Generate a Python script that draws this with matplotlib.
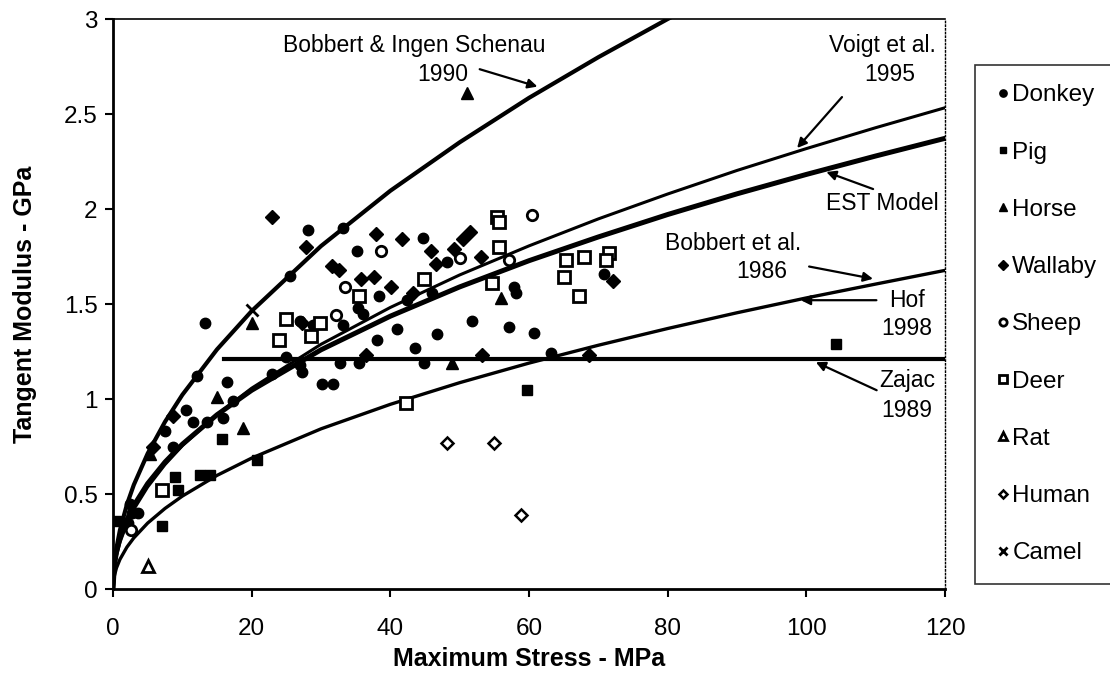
import matplotlib.pyplot as plt
import numpy as np

plt.rcParams['font.family'] = ['Liberation Sans', 'DejaVu Sans']

# ---- model curves ----
curve_x = [0, 0.2, 0.5, 1, 2, 3, 5, 7.5, 10, 15, 20, 30, 40, 50, 60, 70, 80, 90,
           100, 110, 120]
bobbert_1990 = [0, 0.135, 0.216, 0.31, 0.444, 0.548, 0.713, 0.880, 1.022, 1.261,
                1.463, 1.805, 2.096, 2.351, 2.585, 2.799, 3.000, 3.19, 3.37, 3.55, 3.72]
voigt_1995 = [0, 0.112, 0.175, 0.245, 0.344, 0.419, 0.537, 0.655, 0.754, 0.918,
              1.057, 1.288, 1.482, 1.653, 1.806, 1.948, 2.079, 2.203, 2.318, 2.428, 2.533]
est_model = [0, 0.127, 0.194, 0.266, 0.365, 0.439, 0.555, 0.668, 0.762, 0.917,
             1.046, 1.259, 1.436, 1.590, 1.728, 1.853, 1.971, 2.080, 2.182, 2.279, 2.372]
hof_1998 = [0, 0.070, 0.111, 0.156, 0.220, 0.269, 0.347, 0.424, 0.489, 0.598,
            0.689, 0.843, 0.972, 1.086, 1.189, 1.283, 1.371, 1.454, 1.532, 1.605, 1.677]
zajac_x = [16, 120]
zajac_y = [1.21, 1.21]

# ---- measured points ----
donkey_x = [28.1, 25.5, 13.2, 28.8, 33.1, 44.7, 35.2, 48.2, 38.4, 35.3, 36.0, 46.0,
            42.4, 51.8, 41.0, 46.8, 33.1, 57.8, 58.1, 70.8, 57.1, 60.7, 38.1, 43.5,
            32.7, 35.5, 44.9, 30.2, 31.7, 63.2, 25.0, 27.2, 26.9, 22.9, 12.1, 16.5,
            17.3, 10.6, 11.5, 13.5, 15.8, 7.5, 8.6, 2.7, 3.6, 2.2, 2.4, 27.0]
donkey_y = [1.89, 1.65, 1.40, 1.39, 1.90, 1.85, 1.78, 1.72, 1.54, 1.48, 1.45, 1.56,
            1.52, 1.41, 1.37, 1.34, 1.39, 1.59, 1.56, 1.66, 1.38, 1.35, 1.31, 1.27,
            1.19, 1.19, 1.19, 1.08, 1.08, 1.24, 1.22, 1.14, 1.18, 1.13, 1.12, 1.09,
            0.99, 0.94, 0.88, 0.88, 0.90, 0.83, 0.75, 0.40, 0.40, 0.35, 0.45, 1.41]
pig_x = [0.5, 7.0, 9.0, 9.4, 12.5, 14.0, 15.7, 20.7, 59.7, 104.3]
pig_y = [0.36, 0.33, 0.59, 0.52, 0.60, 0.60, 0.79, 0.68, 1.05, 1.29]
horse_x = [20.0, 15.0, 18.7, 48.9, 56.0, 51.0, 5.3]
horse_y = [1.40, 1.01, 0.85, 1.19, 1.53, 2.61, 0.71]
wallaby_x = [23.0, 27.9, 27.3, 38.0, 41.7, 50.5, 51.5, 45.9, 49.2, 46.6, 53.1, 31.6,
             32.6, 35.8, 37.6, 40.1, 43.2, 72.1, 36.5, 53.2, 68.6, 8.6, 5.7]
wallaby_y = [1.96, 1.80, 1.40, 1.87, 1.84, 1.84, 1.88, 1.78, 1.79, 1.71, 1.75, 1.70,
             1.68, 1.63, 1.64, 1.59, 1.56, 1.62, 1.23, 1.23, 1.23, 0.91, 0.75]
sheep_x = [38.7, 50.1, 57.1, 60.4, 33.5, 32.1, 2.6]
sheep_y = [1.78, 1.74, 1.73, 1.97, 1.59, 1.44, 0.31]
deer_x = [55.4, 55.6, 55.7, 65.3, 67.9, 71.5, 71.1, 65.0, 67.2, 54.7, 44.9, 35.5,
          29.8, 28.6, 25.0, 24.0, 42.3, 7.1]
deer_y = [1.96, 1.93, 1.80, 1.73, 1.75, 1.77, 1.73, 1.64, 1.54, 1.61, 1.63, 1.54,
          1.40, 1.33, 1.42, 1.31, 0.98, 0.52]
rat_x = [5.0]
rat_y = [0.12]
human_x = [48.2, 55.0, 58.9]
human_y = [0.77, 0.77, 0.39]
camel_x = [20.0]
camel_y = [1.47]

x_ticks = [0, 20, 40, 60, 80, 100, 120]
y_ticks = [0, 0.5, 1, 1.5, 2, 2.5, 3]
y_tick_labels = ['0', '0.5', '1', '1.5', '2', '2.5', '3']

fig = plt.figure(figsize=(11.1, 6.91), dpi=100)
ax = fig.add_axes([0.1018, 0.1476, 0.7496, 0.8249])

# curves
ax.plot(curve_x, bobbert_1990, color='black', lw=3.0, zorder=3)
ax.plot(curve_x, voigt_1995, color='black', lw=2.2, zorder=3)
ax.plot(curve_x, est_model, color='black', lw=3.6, zorder=3)
ax.plot(curve_x, hof_1998, color='black', lw=2.4, zorder=3)
ax.plot(zajac_x, zajac_y, color='black', lw=3.0, zorder=3)

# points
ax.plot(donkey_x, donkey_y, 'o', color='black', ms=7.5, ls='none', label='Donkey', zorder=4)
ax.plot(pig_x, pig_y, 's', color='black', ms=7, ls='none', label='Pig', zorder=4)
ax.plot(horse_x, horse_y, '^', color='black', ms=8, ls='none', label='Horse', zorder=4)
ax.plot(wallaby_x, wallaby_y, 'D', color='black', ms=7, ls='none', label='Wallaby', zorder=4)
ax.plot(sheep_x, sheep_y, 'o', mfc='white', mec='black', mew=2, ms=7.5, ls='none',
        label='Sheep', zorder=4)
ax.plot(deer_x, deer_y, 's', mfc='white', mec='black', mew=2, ms=8, ls='none',
        label='Deer', zorder=4)
ax.plot(rat_x, rat_y, '^', mfc='white', mec='black', mew=2, ms=8, ls='none',
        label='Rat', zorder=4)
ax.plot(human_x, human_y, 'D', mfc='white', mec='black', mew=1.8, ms=6, ls='none',
        label='Human', zorder=4)
ax.plot(camel_x, camel_y, 'x', color='black', mew=2, ms=8, ls='none', label='Camel', zorder=4)

ax.set_xlim(0, 120)
ax.set_ylim(0, 3)
ax.set_xticks(x_ticks)
ax.set_yticks(y_ticks)
ax.set_yticklabels(y_tick_labels)
ax.tick_params(axis='x', direction='out', length=6, width=1.5, pad=15, labelsize=17.5)
ax.tick_params(axis='y', direction='out', length=6, width=1.5, pad=5, labelsize=17.5)

for side in ['left', 'bottom']:
    ax.spines[side].set_linewidth(2)
ax.spines['top'].set_linewidth(1.2)
ax.spines['right'].set_linewidth(1)
ax.spines['right'].set_linestyle(':')

ax.set_xlabel('Maximum Stress - MPa', fontsize=18, fontweight='bold', labelpad=5)
ax.set_ylabel('Tangent Modulus - GPa', fontsize=18, fontweight='bold', labelpad=19)

# annotations
fs = 16.5
arrow = dict(arrowstyle='-|>', color='black', lw=1.6, mutation_scale=14)
ax.text(43.5, 2.86, 'Bobbert & Ingen Schenau', fontsize=fs, ha='center', va='center')
ax.text(47.5, 2.71, '1990', fontsize=fs, ha='center', va='center')
ax.annotate('', xy=(61.6, 2.64), xytext=(52.5, 2.74), arrowprops=arrow)

ax.text(111.0, 2.86, 'Voigt et al.', fontsize=fs, ha='center', va='center')
ax.text(112.0, 2.71, '1995', fontsize=fs, ha='center', va='center')
ax.annotate('', xy=(98.4, 2.31), xytext=(105.4, 2.60), arrowprops=arrow)

ax.text(111.0, 2.03, 'EST Model', fontsize=fs, ha='center', va='center')
ax.annotate('', xy=(102.5, 2.20), xytext=(110.0, 2.10), arrowprops=arrow)

ax.text(89.5, 1.82, 'Bobbert et al.', fontsize=fs, ha='center', va='center')
ax.text(93.5, 1.67, '1986', fontsize=fs, ha='center', va='center')
ax.annotate('', xy=(110.0, 1.63), xytext=(100.0, 1.70), arrowprops=arrow)

ax.text(114.5, 1.52, 'Hof', fontsize=fs, ha='center', va='center')
ax.text(114.5, 1.37, '1998', fontsize=fs, ha='center', va='center')
ax.annotate('', xy=(98.8, 1.52), xytext=(110.5, 1.52), arrowprops=arrow)

ax.text(114.5, 1.10, 'Zajac', fontsize=fs, ha='center', va='center')
ax.text(114.5, 0.94, '1989', fontsize=fs, ha='center', va='center')
ax.annotate('', xy=(101.0, 1.20), xytext=(110.5, 1.04), arrowprops=arrow)

leg = ax.legend(loc='upper left', bbox_to_anchor=(0.878, 0.906), bbox_transform=fig.transFigure,
                borderaxespad=0, fontsize=17.5, labelspacing=1.45, handletextpad=0.05,
                handlelength=0.7, markerscale=0.7, frameon=True, fancybox=False,
                borderpad=0.8)
leg.get_frame().set_edgecolor('black')
leg.get_frame().set_linewidth(1.2)

fig.savefig('out.png', dpi=100)
